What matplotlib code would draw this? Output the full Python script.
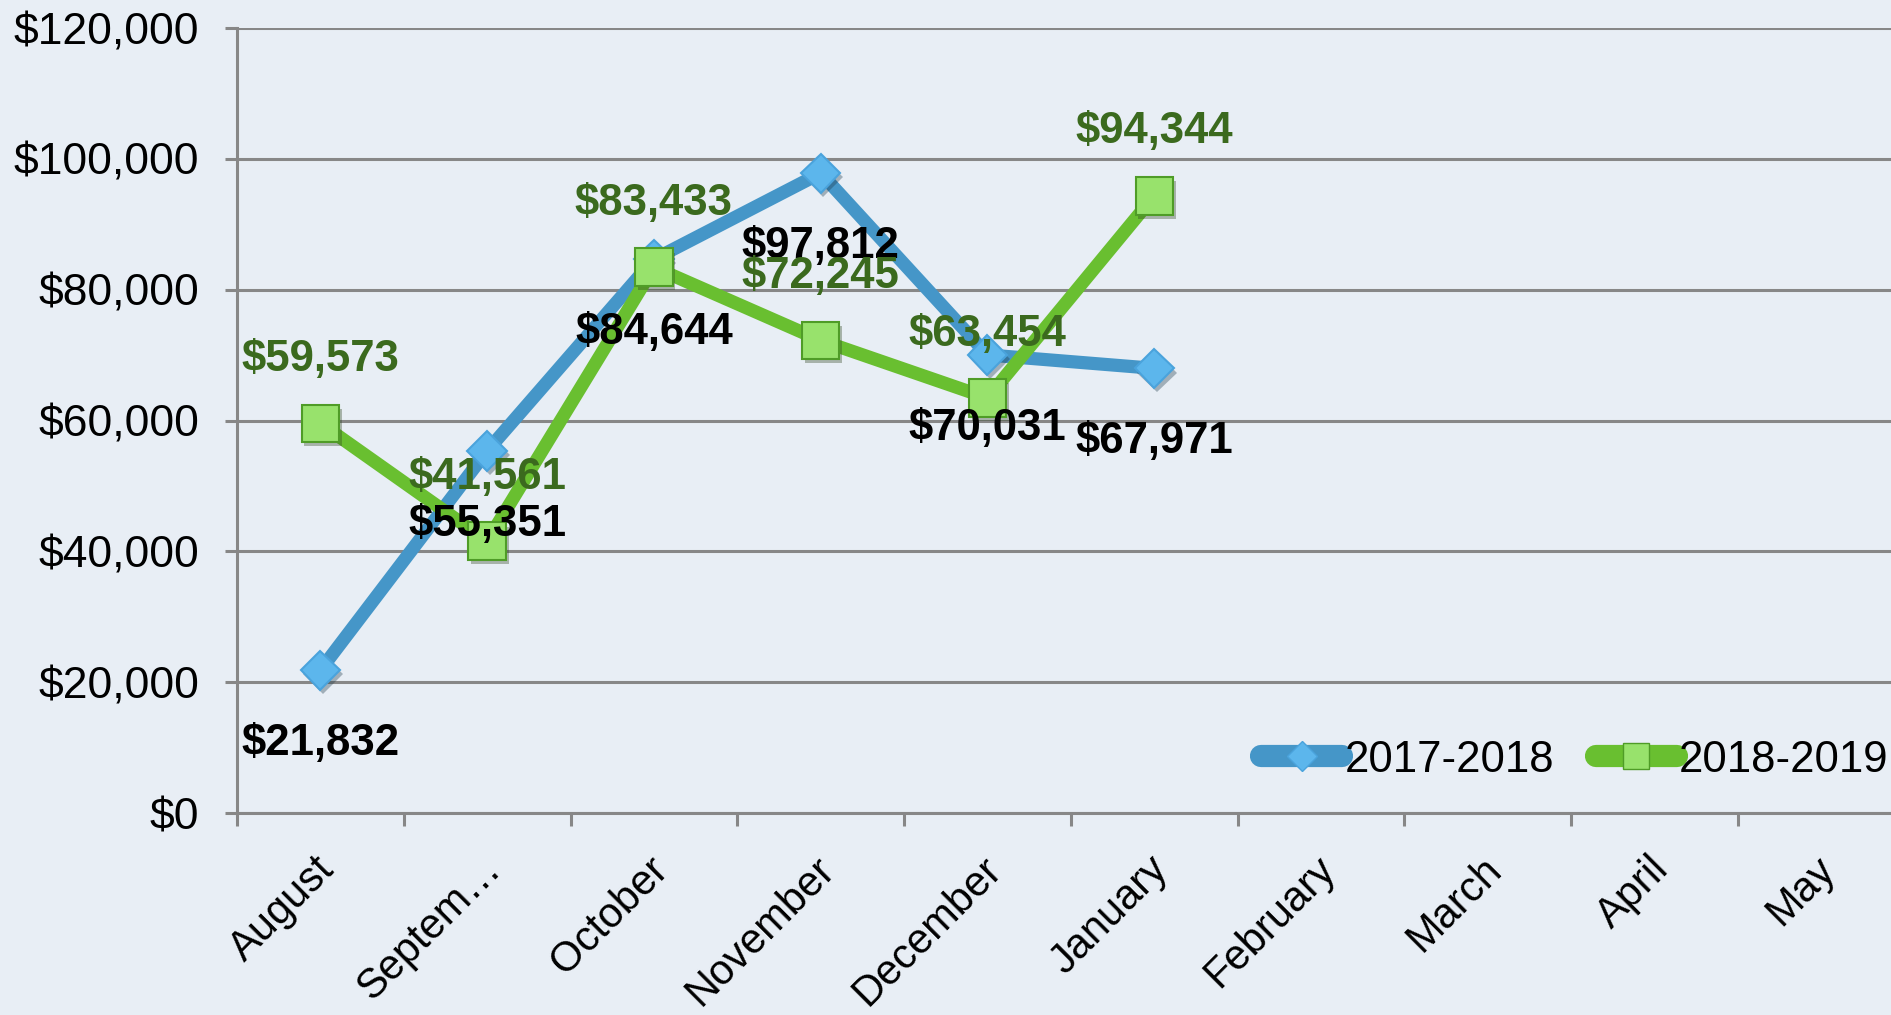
import matplotlib.pyplot as plt
import matplotlib.patheffects as pe
from matplotlib.lines import Line2D
from matplotlib.ticker import FuncFormatter
from matplotlib.transforms import ScaledTranslation

plt.rcParams['font.family'] = ['Liberation Sans', 'DejaVu Sans']

months = ['August', 'Septem…', 'October', 'November', 'December', 'January',
          'February', 'March', 'April', 'May']
sales_2017 = [21832, 55351, 84644, 97812, 70031, 67971]
sales_2018 = [59573, 41561, 83433, 72245, 63454, 94344]
series_names = ['2017-2018', '2018-2019']

bg = '#e8eef5'
blue_line = '#4596c8'
blue_mark = '#5cb6ec'
green_line = '#69bf30'
green_mark = '#98e26c'
green_text = '#3b6a1e'
grid_c = '#878787'

fig = plt.figure(figsize=(18.91, 10.15), dpi=100, facecolor=bg)
ax = fig.add_axes([0.1253, 0.199, 0.882, 0.7734], facecolor=bg)

x1 = list(range(len(sales_2017)))
x2 = list(range(len(sales_2018)))
shadow = [pe.SimplePatchShadow(offset=(2, -3), alpha=0.35), pe.Normal()]

ax.plot(x1, sales_2017, color=blue_line, lw=9.5, solid_capstyle='round', zorder=3)
ax.plot(x1, sales_2017, ls='none', marker='D', ms=20, mfc=blue_mark, mec='#4aa3dc',
        mew=1.5, zorder=4, path_effects=shadow)
ax.plot(x2, sales_2018, color=green_line, lw=9.5, solid_capstyle='round', zorder=5)
ax.plot(x2, sales_2018, ls='none', marker='s', ms=27, mfc=green_mark, mec='#4f9c27',
        mew=1.5, zorder=6, path_effects=shadow)

# value labels: black below the 2017-2018 points, green above the 2018-2019 points
for x, v in zip(x1, sales_2017):
    ax.annotate(f'${v:,}', (x, v), xytext=(0, -53), textcoords='offset points',
                ha='center', va='center', fontsize=31.5, fontweight='bold',
                color='black', zorder=10)
for x, v in zip(x2, sales_2018):
    ax.annotate(f'${v:,}', (x, v), xytext=(0, 46), textcoords='offset points',
                ha='center', va='center', fontsize=31.5, fontweight='bold',
                color=green_text, zorder=10)

ax.set_xlim(-0.5, len(months) - 0.5)
ax.set_ylim(0, 120000)
ax.set_yticks(range(0, 120001, 20000))
ax.yaxis.set_major_formatter(FuncFormatter(lambda v, p: f'${int(v):,}'))
ax.grid(axis='y', color=grid_c, lw=2.2)
ax.set_axisbelow(True)

ax.set_xticks(range(len(months)))
ax.set_xticklabels(months, rotation=45, ha='right', va='center', rotation_mode='anchor')
ax.set_xticks([i - 0.5 for i in range(len(months) + 1)], minor=True)
ax.tick_params(axis='x', which='major', length=0, pad=36, labelsize=30)
ax.tick_params(axis='x', which='minor', length=9, width=2.2, color=grid_c)
ax.tick_params(axis='y', length=9, width=2.2, color=grid_c, pad=18, labelsize=32)
shift = ScaledTranslation(8 / 100, 0, fig.dpi_scale_trans)
for lab in ax.get_xticklabels():
    lab.set_transform(lab.get_transform() + shift)

for s in ['top', 'right']:
    ax.spines[s].set_visible(False)
for s in ['left', 'bottom']:
    ax.spines[s].set_color(grid_c)
    ax.spines[s].set_linewidth(2.2)

handles = [
    Line2D([], [], color=blue_line, lw=16, solid_capstyle='round', marker='D', ms=15,
           mfc=blue_mark, mec='#4aa3dc'),
    Line2D([], [], color=green_line, lw=16, solid_capstyle='round', marker='s', ms=19,
           mfc=green_mark, mec='#4f9c27'),
]
fig.legend(handles, series_names, loc='center left', bbox_to_anchor=(0.667, 0.2512),
           bbox_transform=fig.transFigure, frameon=False, ncol=2, fontsize=31.5,
           handlelength=1.85, handletextpad=0.05, columnspacing=0.95, borderpad=0,
           borderaxespad=0)

fig.savefig('out.png', dpi=100, facecolor=bg)
